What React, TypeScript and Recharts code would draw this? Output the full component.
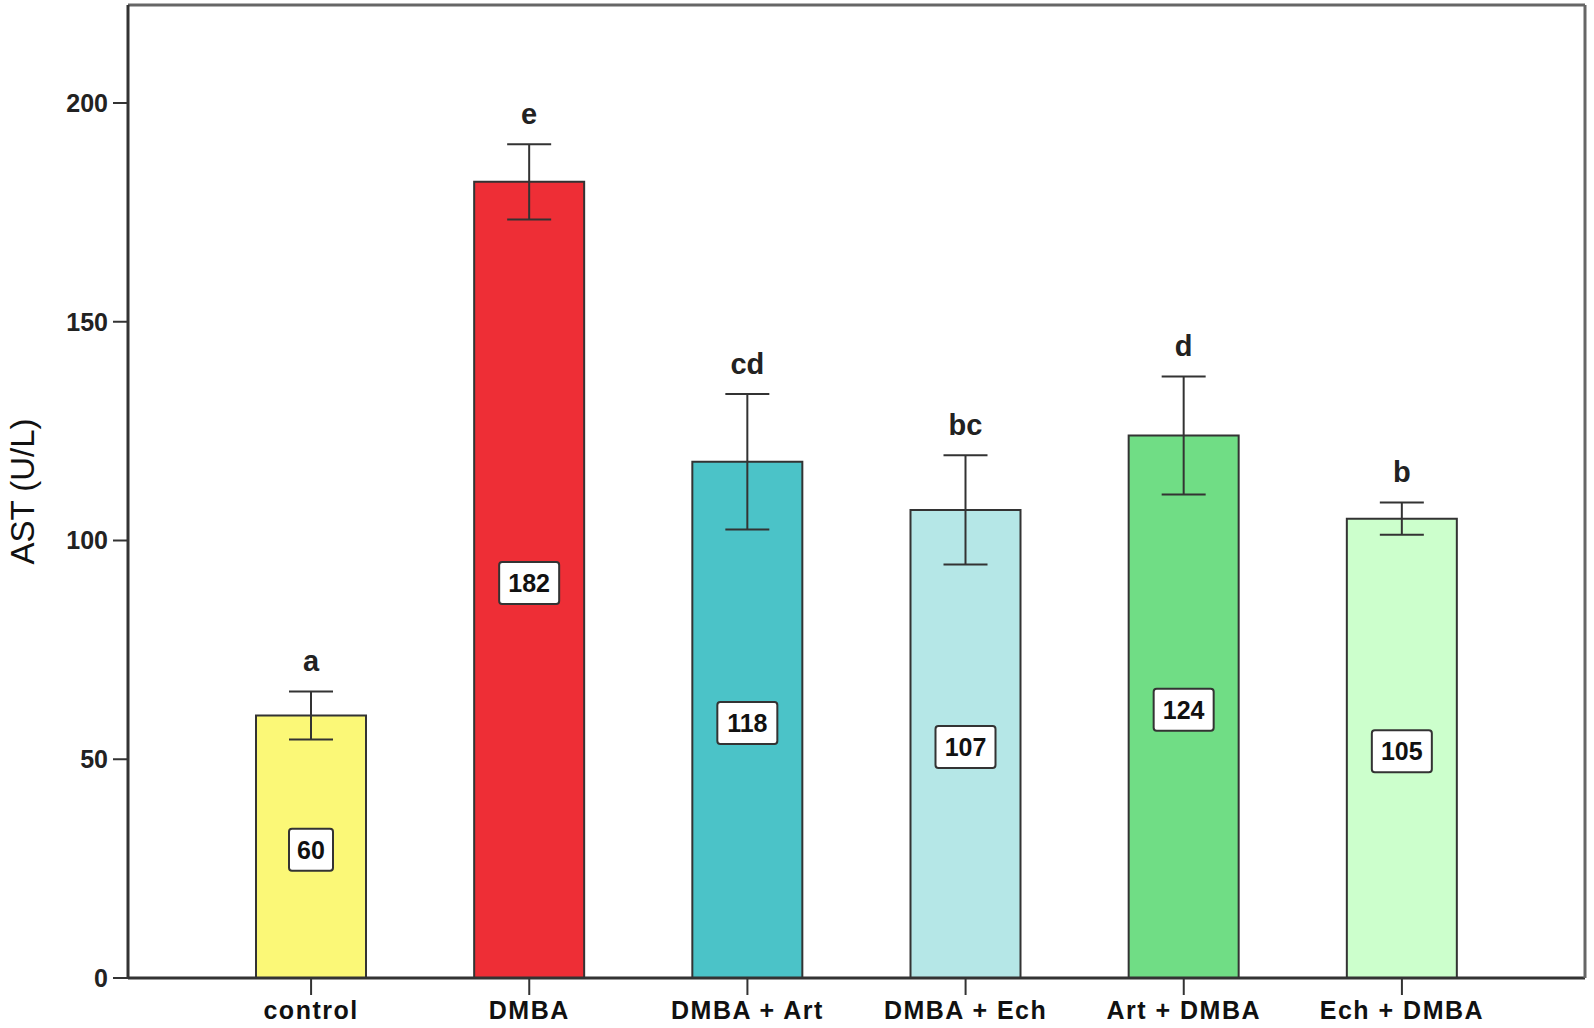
import { BarChart, Bar, XAxis, YAxis, Cell, ErrorBar, LabelList } from 'recharts';

const groups = ['control', 'DMBA', 'DMBA + Art', 'DMBA + Ech', 'Art + DMBA', 'Ech + DMBA'];
const means = [60, 182, 118, 107, 124, 105];
const errors = [5.5, 8.6, 15.5, 12.5, 13.5, 3.7];
const letters = ['a', 'e', 'cd', 'bc', 'd', 'b'];
const yTicks = [0, 50, 100, 150, 200];

const COLORS = ['#fbf877', '#ee2e36', '#4bc3c8', '#b5e7e7', '#70dd85', '#ccffcc'];
const FONT = '"Liberation Sans", Arial, sans-serif';

const data = groups.map((g, i) => ({ name: g, value: means[i], err: errors[i] }));

function LetterLabel(props: any) {
  const { x, y, width, height, value, index } = props;
  const pxPerUnit = height / value;
  const top = y - errors[index] * pxPerUnit;
  return (
    <text x={x + width / 2} y={top - 20} textAnchor="middle" fontFamily={FONT} fontWeight="bold" fontSize={29} fill="#222">
      {letters[index]}
    </text>
  );
}

function ValueBox(props: any) {
  const { x, y, width, height, value } = props;
  const cx = x + width / 2;
  const cy = y + height / 2 + 3;
  const w = String(value).length > 2 ? 60 : 44;
  return (
    <g>
      <rect x={cx - w / 2} y={cy - 21} width={w} height={42} rx={3} fill="#fff" stroke="#333" strokeWidth={2} />
      <text x={cx} y={cy + 9} textAnchor="middle" fontFamily={FONT} fontWeight="bold" fontSize={25} fill="#111">
        {value}
      </text>
    </g>
  );
}

export default function App() {
  return (
    <div>
      <style>{`body{margin:0;background:#fff}`}</style>
      <BarChart width={1594} height={1028} data={data} margin={{ top: 4, right: 8, bottom: 0, left: 0 }}>
        <XAxis
          dataKey="name"
          padding={{ left: 74, right: 74 }}
          height={50}
          tickSize={17}
          tickMargin={6}
          axisLine={{ stroke: '#333', strokeWidth: 3 }}
          tickLine={{ stroke: '#333', strokeWidth: 2 }}
          tick={{ fontFamily: FONT, fontWeight: 'bold', fontSize: 25, fill: '#111', letterSpacing: 1.5 }}
          interval={0}
        />
        <XAxis xAxisId="top" dataKey="name" orientation="top" height={1} tick={false} tickLine={false} axisLine={{ stroke: '#666', strokeWidth: 3 }} />
        <YAxis
          width={128}
          domain={[0, 222.4]}
          ticks={yTicks}
          tickSize={15}
          tickMargin={5}
          axisLine={{ stroke: '#333', strokeWidth: 3 }}
          tickLine={{ stroke: '#333', strokeWidth: 2 }}
          tick={{ fontFamily: FONT, fontWeight: 'bold', fontSize: 25, fill: '#222' }}
          label={{
            content: (p: any) => {
              const vb = p.viewBox;
              const cy = vb.y + vb.height / 2;
              return (
                <text x={22} y={cy} transform={`rotate(-90, 22, ${cy})`} textAnchor="middle" dominantBaseline="central" fontFamily={FONT} fontSize={33} fill="#111">
                  AST (U/L)
                </text>
              );
            },
          }}
        />
        <YAxis yAxisId="right" orientation="right" width={1} tick={false} tickLine={false} axisLine={{ stroke: '#666', strokeWidth: 3 }} />
        <Bar dataKey="value" barSize={110} stroke="#333" strokeWidth={2} isAnimationActive={false}>
          {data.map((d, i) => (
            <Cell key={d.name} fill={COLORS[i]} />
          ))}
          <ErrorBar dataKey="err" width={22} stroke="#333" strokeWidth={2} isAnimationActive={false} />
          <LabelList dataKey="value" content={LetterLabel} />
          <LabelList dataKey="value" content={ValueBox} />
        </Bar>
      </BarChart>
    </div>
  );
}
